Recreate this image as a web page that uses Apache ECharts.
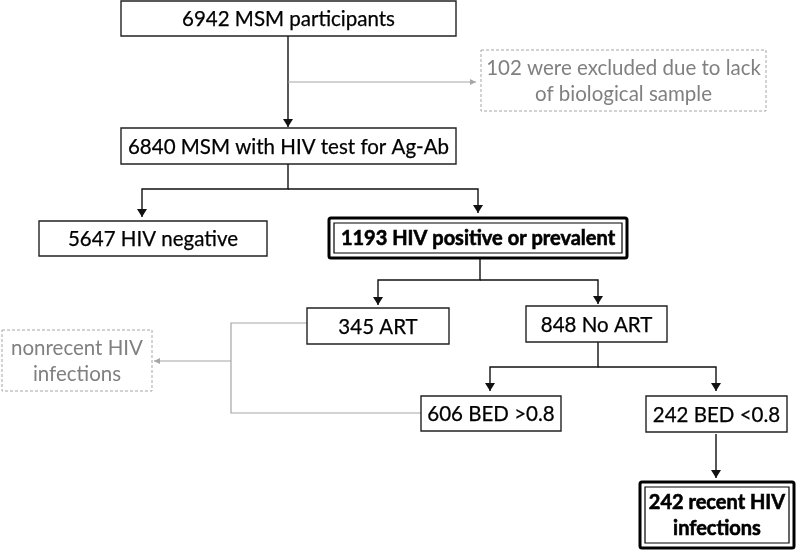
<!DOCTYPE html>
<html>
<head>
<meta charset="utf-8">
<script src="https://cdn.jsdelivr.net/npm/echarts@6/dist/echarts.min.js"></script>
<style>
  html, body { margin: 0; background: #fff; }
  #chart { width: 797px; height: 550px; }
</style>
</head>
<body>
<div id="chart"></div>
<script>
// numbers in each box of the flow, null where the box has no count
const counts = [6942, 102, 6840, 5647, 1193, 345, 848, null, 606, 242, 242];
const captions = [
  'MSM participants',
  'were excluded due to lack\nof biological sample',
  'MSM with HIV test for Ag-Ab',
  'HIV negative',
  'HIV positive or prevalent',
  'ART',
  'No ART',
  'nonrecent HIV\ninfections',
  'BED >0.8',
  'BED <0.8',
  'recent HIV\ninfections'
];
const kinds = ['plain', 'side', 'plain', 'plain', 'key', 'plain', 'plain', 'side', 'plain', 'plain', 'key'];

// layout of the boxes on a 797 x 550 plane: x0, y0, x1, y1
const boxLayout = [
  [121, 1, 456, 36],
  [481, 50, 766, 111],
  [121, 128, 456, 164],
  [39, 221, 267, 256],
  [329, 218, 627, 258],
  [307, 308, 449, 344],
  [526, 306, 667, 342],
  [2, 330, 152, 391],
  [421, 396, 561, 431],
  [646, 396, 787, 432],
  [640, 482, 794, 548]
];

// connectors: points, arrow at the end or not, grey or black
const links = [
  { pts: [[288, 36], [288, 127]], arrow: true },
  { pts: [[288, 82], [476, 82]], arrow: true, grey: true },
  { pts: [[288, 164], [288, 189], [142, 189], [142, 217]], arrow: true },
  { pts: [[288, 189], [478, 189], [478, 213]], arrow: true },
  { pts: [[480, 258], [480, 280], [378, 280], [378, 305]], arrow: true },
  { pts: [[480, 280], [598, 280], [598, 304]], arrow: true },
  { pts: [[598, 342], [598, 367], [490, 367], [490, 391]], arrow: true },
  { pts: [[598, 367], [716, 367], [716, 391]], arrow: true },
  { pts: [[716, 434], [716, 478]], arrow: true },
  { pts: [[307, 323], [231, 323], [231, 413], [421, 413]], arrow: false, grey: true },
  { pts: [[231, 361], [154, 361]], arrow: true, grey: true }
];

const FONT = 'Lato, "Open Sans", sans-serif';
const GREY_LINE = '#a6a6a6';
const GREY_TEXT = '#808080';

const chart = echarts.init(document.getElementById('chart'));

const renderBox = (params, api) => {
  const i = api.value(4);
  const p0 = api.coord([api.value(0), api.value(1)]);
  const p1 = api.coord([api.value(2), api.value(3)]);
  const x = p0[0], y = p0[1], w = p1[0] - p0[0], h = p1[1] - p0[1];
  const kind = kinds[i];
  const text = counts[i] === null ? captions[i] : counts[i] + ' ' + captions[i];
  const textColor = kind === 'side' ? GREY_TEXT : '#000';
  const children = [];
  if (kind === 'key') {
    children.push({ type: 'rect', shape: { x: x, y: y, width: w, height: h, r: 2 },
      style: { fill: '#fff', stroke: '#000', lineWidth: 3 } });
    children.push({ type: 'rect', shape: { x: x + 5, y: y + 5, width: w - 10, height: h - 10 },
      style: { fill: 'none', stroke: '#000', lineWidth: 1.2 } });
  } else if (kind === 'side') {
    children.push({ type: 'rect', shape: { x: x, y: y, width: w, height: h },
      style: { fill: '#fff', stroke: GREY_LINE, lineWidth: 1, lineDash: [3, 2] } });
  } else {
    children.push({ type: 'rect', shape: { x: x, y: y, width: w, height: h },
      style: { fill: '#fff', stroke: '#222', lineWidth: 1.4 } });
  }
  children.push({
    type: 'text',
    style: {
      text: text,
      x: x + w / 2,
      y: y + h / 2 + 1,
      align: 'center',
      verticalAlign: 'middle',
      fontFamily: FONT,
      fontSize: kind === 'key' ? 20 : 20.5,
      fontWeight: kind === 'key' ? 'bold' : 'normal',
      lineHeight: 26,
      fill: textColor,
      stroke: kind === 'side' ? null : textColor,
      lineWidth: kind === 'key' ? 0.6 : 0.25
    }
  });
  return { type: 'group', children: children };
};

const renderLink = (params, api) => {
  const link = links[api.value(0)];
  const pts = link.pts.map(p => api.coord(p));
  const color = link.grey ? GREY_LINE : '#111';
  const children = [{
    type: 'polyline',
    shape: { points: pts },
    style: { fill: 'none', stroke: color, lineWidth: link.grey ? 1.2 : 1.4 }
  }];
  if (link.arrow) {
    const b = pts[pts.length - 1], a = pts[pts.length - 2];
    const len = Math.hypot(b[0] - a[0], b[1] - a[1]);
    const dx = (b[0] - a[0]) / len, dy = (b[1] - a[1]) / len;
    const hl = link.grey ? 6 : 8, hw = link.grey ? 3 : 5;
    const bx = b[0] - dx * hl, by = b[1] - dy * hl;
    children.push({
      type: 'polygon',
      shape: { points: [b, [bx - dy * hw, by + dx * hw], [bx + dy * hw, by - dx * hw]] },
      style: { fill: color, stroke: null }
    });
  }
  return { type: 'group', children: children };
};

const option = {
  animation: false,
  grid: { left: 0, right: 0, top: 0, bottom: 0 },
  xAxis: { type: 'value', min: 0, max: 797, show: false },
  yAxis: { type: 'value', min: 0, max: 550, inverse: true, show: false },
  series: [
    {
      type: 'custom',
      clip: false,
      renderItem: renderLink,
      data: links.map((l, i) => [i])
    },
    {
      type: 'custom',
      clip: false,
      renderItem: renderBox,
      data: boxLayout.map((b, i) => [b[0], b[1], b[2], b[3], i])
    }
  ]
};
chart.setOption(option);
</script>
</body>
</html>
